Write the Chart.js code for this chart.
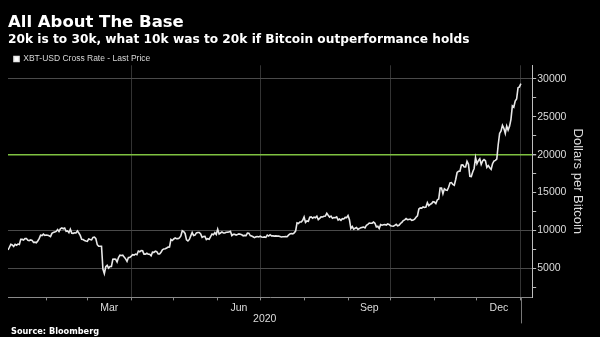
<!DOCTYPE html>
<html>
<head>
<meta charset="utf-8">
<script src="https://cdn.jsdelivr.net/npm/chart.js@4.4.0/dist/chart.umd.min.js"></script>
<style>
html, body { margin: 0; padding: 0; background: #000; }
#wrap { width: 600px; height: 337px; }
</style>
</head>
<body>
<div id="wrap"><canvas id="myChart" width="600" height="337"></canvas></div>
<script>
// XBT-USD last price, daily
const jan = [7411, 7770, 8163, 8079, 7879, 8166, 8037, 8192, 8145, 8828, 8808, 8723, 8930, 8917, 8706, 8658, 8745, 8680, 8407, 8445, 8367, 8597, 8910, 9358, 9317, 9508, 9350];
const feb = [9393, 9344, 9293, 9180, 9613, 9729, 9796, 9865, 10116, 9856, 10208, 10326, 10214, 10312, 9889, 9934, 9690, 10141, 9634, 9608, 9686, 9663, 9924, 9650, 9341, 8820, 8784, 8672, 8599];
const mar = [8562, 8869, 8787, 8755, 9078, 9122, 8909, 8108, 7923, 7909, 7911, 4900, 4300, 5200, 5392, 5014, 5225, 5238, 6191, 6198, 6185, 5830, 6416, 6734, 6681, 6716, 6469, 6242, 5922, 6429, 6438];
const apr = [6606, 6793, 6733, 6867, 6791, 7271, 7176, 7334, 7302, 6865, 6859, 6971, 6845, 6842, 6642, 7116, 7096, 7257, 7189, 6881, 6880, 7117, 7429, 7550, 7569, 7679, 7795, 7807, 8801, 8658];
const may = [8864, 8988, 8897, 8912, 9003, 9268, 9951, 9842, 9593, 8756, 8601, 8804, 9269, 9733, 9328, 9377, 9670, 9726, 9729, 9522, 9081, 9182, 9209, 8790, 8906, 8835, 9181, 9525, 9439, 9700, 9461];
const jun = [10167, 9529, 9656, 9800, 9665, 9653, 9758, 9771, 9795, 9870, 9321, 9480, 9475, 9386, 9450, 9538, 9480, 9411, 9288, 9332, 9303, 9648, 9629, 9313, 9264, 9162, 9045, 9143, 9190, 9137];
const jul = [9228, 9123, 9087, 9132, 9073, 9375, 9252, 9428, 9277, 9278, 9240, 9276, 9243, 9243, 9192, 9132, 9151, 9159, 9185, 9164, 9374, 9525, 9581, 9536, 9677, 9905, 10990, 10912, 11100, 11111, 11323];
const aug = [11759, 11053, 11246, 11205, 11747, 11779, 11601, 11754, 11675, 11878, 11410, 11584, 11784, 11768, 11865, 11892, 12254, 11991, 11758, 11878, 11592, 11681, 11664, 11774, 11366, 11488, 11323, 11542, 11506, 11711, 11680];
const sep = [11970, 11414, 10245, 10511, 10169, 10280, 10369, 10131, 10242, 10363, 10400, 10442, 10323, 10680, 10796, 10974, 10948, 10944, 11094, 10938, 10462, 10538, 10246, 10760, 10692, 10750, 10775, 10709, 10844, 10784];
const oct = [10619, 10575, 10550, 10669, 10793, 10604, 10668, 10915, 11064, 11296, 11384, 11555, 11425, 11429, 11495, 11322, 11358, 11483, 11742, 11916, 12823, 12965, 12931, 13108, 13031, 13075, 13654, 13271, 13437, 13546, 13781];
const nov = [13737, 13550, 14023, 14146, 15590, 15580, 14833, 15479, 15332, 15290, 15701, 16276, 16317, 16068, 15955, 16716, 17645, 17804, 17817, 18621, 18642, 18370, 18364, 19107, 18732, 17150, 17108, 17717, 18177, 19625];
const dec = [18802, 19201, 19445, 18699, 19154, 19345, 19191, 18321, 18553, 18264, 18058, 18803, 19142, 19246, 19417, 21310, 22805, 23137, 23869, 23477, 22803, 23783, 23241, 23735, 24664, 26437, 26272, 27084, 27362, 28841, 28949];
const jan21 = [29374];

const seriesMonths = [jan, feb, mar, apr, may, jun, jul, aug, sep, oct, nov, dec, jan21];
const seriesStarts = ['2020-01-05', '2020-02-01', '2020-03-01', '2020-04-01', '2020-05-01', '2020-06-01',
    '2020-07-01', '2020-08-01', '2020-09-01', '2020-10-01', '2020-11-01', '2020-12-01', '2021-01-01'];

// axes
const monthLabels = ['Mar', 'Jun', 'Sep', 'Dec'];
const labelMonths = ['2020-03-01', '2020-06-01', '2020-09-01', '2020-12-01'];
const monthBounds = ['2020-02-01', '2020-03-01', '2020-04-01', '2020-05-01', '2020-06-01', '2020-07-01',
    '2020-08-01', '2020-09-01', '2020-10-01', '2020-11-01', '2020-12-01', '2021-01-01'];
const quarterBounds = ['2020-04-01', '2020-07-01', '2020-10-01', '2021-01-01'];
const yLabels = [5000, 10000, 15000, 20000, 25000, 30000];
const grayLevels = [5000, 10000, 30000];
const greenLevel = 20000;

function day(s) {
    return (Date.parse(s) - Date.parse('2020-01-01')) / 86400000;
}
function monthMid(s) {
    let d = new Date(s);
    let next = new Date(Date.UTC(d.getUTCFullYear(), d.getUTCMonth() + 1, 1));
    return (day(s) + (next - Date.parse('2020-01-01')) / 86400000) / 2;
}

let points = [];
seriesMonths.forEach(function(arr, i) {
    let d0 = day(seriesStarts[i]);
    arr.forEach(function(v, j) {
        points.push({x: d0 + j, y: v});
    });
});

const boundDays = monthBounds.map(day);
const quarterDays = quarterBounds.map(day);
const labelDays = labelMonths.map(monthMid);
const xTicks = boundDays.concat(labelDays).sort(function(a, b) { return a - b; });

let yTicks = [];
yLabels.forEach(function(v) {
    yTicks.push(v - 2500);
    yTicks.push(v);
});

const extras = {
    id: 'extras',
    afterDraw: function(chart) {
        let c = chart.ctx;
        let xs = chart.scales.x;
        let area = chart.chartArea;
        let xJan = Math.round(xs.getPixelForValue(day('2021-01-01'))) + 0.5;
        c.save();
        c.strokeStyle = '#777777';
        c.lineWidth = 1;
        c.beginPath();
        c.moveTo(xJan, area.bottom);
        c.lineTo(xJan, area.bottom + 26);
        c.stroke();
        c.fillStyle = '#dcdcdc';
        c.font = '10.5px "Liberation Sans"';
        c.textAlign = 'center';
        c.textBaseline = 'middle';
        c.fillText('2020', (xs.left + xJan) / 2, 319);
        c.fillStyle = '#fff';
        c.font = 'bold 8.2px "DejaVu Sans"';
        c.textAlign = 'left';
        c.fillText('Source: Bloomberg', 11, 332);
        c.restore();
    }
};

let ctx = document.getElementById('myChart');
let myChart = new Chart(ctx, {
    type: 'line',
    data: {
        datasets: [{
            label: 'XBT-USD Cross Rate - Last Price',
            data: points,
            borderColor: '#e8e8e8',
            backgroundColor: '#ffffff',
            borderWidth: 1.6,
            pointRadius: 0,
            tension: 0,
            fill: false
        }]
    },
    plugins: [extras],
    options: {
        responsive: false,
        animation: false,
        layout: {padding: {left: 8, right: 15, top: 0, bottom: 22}},
        plugins: {
            tooltip: {enabled: false},
            title: {
                display: true,
                text: 'All About The Base',
                align: 'start',
                color: '#ffffff',
                font: {family: 'DejaVu Sans', size: 16.5, weight: 'bold', lineHeight: 1.1},
                padding: {top: 14, bottom: 0}
            },
            subtitle: {
                display: true,
                text: '20k is to 30k, what 10k was to 20k if Bitcoin outperformance holds',
                align: 'start',
                color: '#ffffff',
                font: {family: 'DejaVu Sans', size: 12.2, weight: 'bold', lineHeight: 1.2},
                padding: {top: 0, bottom: 2}
            },
            legend: {
                display: true,
                align: 'start',
                maxHeight: 16.5,
                labels: {
                    boxWidth: 5,
                    boxHeight: 5,
                    color: '#d8d8d8',
                    font: {family: 'Liberation Sans', size: 8.5},
                    padding: 6
                }
            }
        },
        scales: {
            x: {
                type: 'linear',
                min: day('2020-01-05'),
                max: day('2021-01-09'),
                afterBuildTicks: function(axis) {
                    axis.ticks = xTicks.map(function(v) { return {value: v}; });
                },
                ticks: {
                    autoSkip: false,
                    maxRotation: 0,
                    minRotation: 0,
                    padding: 1,
                    color: '#dcdcdc',
                    font: {family: 'Liberation Sans', size: 10.5},
                    callback: function(value) {
                        let i = labelDays.indexOf(value);
                        return i >= 0 ? monthLabels[i] : '';
                    }
                },
                grid: {
                    color: function(c) {
                        return c.tick && quarterDays.indexOf(c.tick.value) >= 0 ? '#333333' : 'transparent';
                    },
                    tickColor: function(c) {
                        return c.tick && labelDays.indexOf(c.tick.value) >= 0 ? 'transparent' : '#8a8a8a';
                    },
                    tickLength: 3
                },
                border: {color: '#8a8a8a'}
            },
            y: {
                type: 'linear',
                position: 'right',
                min: 1150,
                max: 31800,
                afterBuildTicks: function(axis) {
                    axis.ticks = yTicks.map(function(v) { return {value: v}; });
                },
                ticks: {
                    padding: 1,
                    color: '#dcdcdc',
                    font: {family: 'Liberation Sans', size: 10.5},
                    callback: function(value) {
                        return yLabels.indexOf(value) >= 0 ? String(value) : '';
                    }
                },
                grid: {
                    color: function(c) {
                        if (!c.tick) return 'transparent';
                        if (c.tick.value === greenLevel) return '#7fc241';
                        return grayLevels.indexOf(c.tick.value) >= 0 ? '#4a4a4a' : 'transparent';
                    },
                    lineWidth: function(c) {
                        return c.tick && c.tick.value === greenLevel ? 1.4 : 1;
                    },
                    tickColor: '#bdbdbd',
                    tickLength: 4
                },
                border: {color: '#bdbdbd'},
                title: {
                    display: true,
                    text: 'Dollars per Bitcoin',
                    color: '#dcdcdc',
                    font: {family: 'Liberation Sans', size: 13},
                    padding: {top: 0, bottom: 2}
                }
            }
        }
    }
});
</script>
</body>
</html>
